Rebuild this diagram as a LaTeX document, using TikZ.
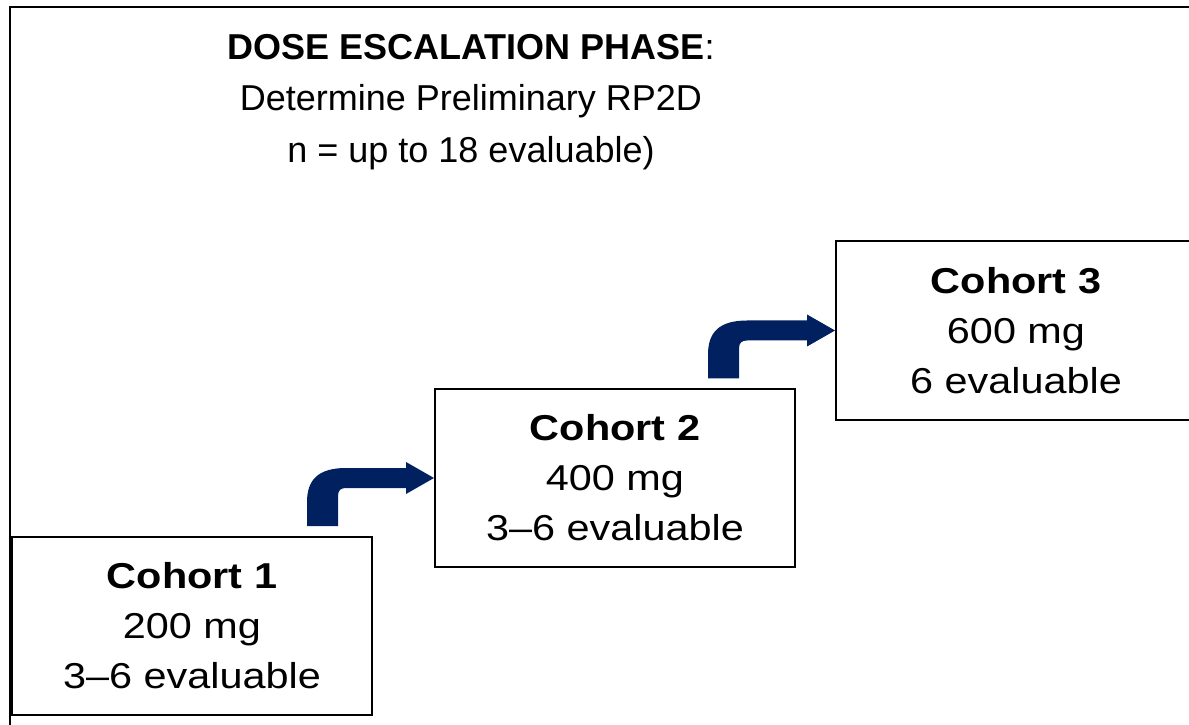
\documentclass[tikz,border=0pt]{standalone}
\usepackage{fontspec}
\setmainfont{Liberation Sans}
\newfontfamily\boxfont[FakeStretch=1.15]{Liberation Sans}
\definecolor{navy}{RGB}{0,32,96}
\tikzset{
  cohort/.style={draw, line width=2pt, minimum width=360pt, minimum height=178pt,
    inner sep=0pt, align=center, font=\boxfont\fontsize{36}{50}\selectfont},
  bentarrow/.style={fill=navy}
}

\begin{document}
\begin{tikzpicture}[x=1pt, y=1pt]
\useasboundingbox (0,0) rectangle (1189,724);
\clip (0,0) rectangle (1189,724);
\draw[line width=2pt] (10,-10) rectangle (1210,717);

\node[align=center, anchor=north, inner sep=0pt, font=\fontsize{36}{51.5}\selectfont] (title) at (471,690)
  {\textbf{DOSE ESCALATION PHASE}:\\Determine Preliminary RP2D\\n = up to 18 evaluable)};

\node[cohort] (coh1) at (192,98.5) {\textbf{Cohort 1}\\200 mg\\3–6 evaluable};
\node[cohort] (coh2) at (615,246) {\textbf{Cohort 2}\\400 mg\\3–6 evaluable};
\node[cohort] (coh3) at (1016,393.5) {\textbf{Cohort 3}\\600 mg\\6 evaluable};

\fill[bentarrow, shift={(coh2.west)}] (0,0) -- (-28,16) -- (-28,10) -- (-88,10)
  .. controls (-116,10) and (-127,-2) .. (-127,-24) -- (-127,-48) -- (-96,-48) -- (-96,-18)
  .. controls (-96,-12) and (-93,-10) .. (-88,-10) -- (-28,-10) -- (-28,-16) -- cycle;
\fill[bentarrow, shift={(coh3.west)}] (0,0) -- (-28,16) -- (-28,10) -- (-88,10)
  .. controls (-116,10) and (-127,-2) .. (-127,-24) -- (-127,-48) -- (-96,-48) -- (-96,-18)
  .. controls (-96,-12) and (-93,-10) .. (-88,-10) -- (-28,-10) -- (-28,-16) -- cycle;

\end{tikzpicture}
\end{document}
